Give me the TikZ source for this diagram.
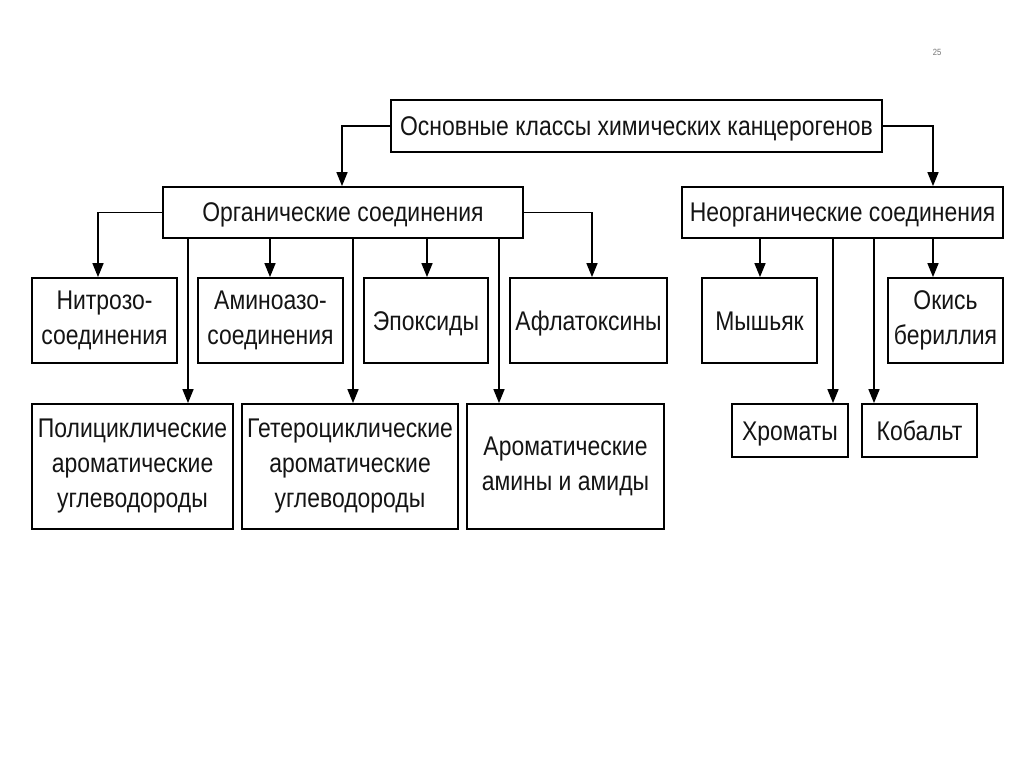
\documentclass[tikz,border=0pt]{standalone}
\usepackage{fontspec}
\setmainfont{Liberation Sans}[FakeStretch=0.85]
\usetikzlibrary{arrows.meta}
\begin{document}
\begin{tikzpicture}[x=1pt,y=-1pt,
  box/.style={draw, line width=1.8pt, rectangle, inner sep=0pt, align=center,
    font=\fontsize{27}{35}\selectfont, text=black!92},
  single/.style={text height=25pt, text depth=6pt},
  conn/.style={line width=1.6pt, -{Triangle[length=14pt,width=11pt]}}]
\useasboundingbox (0,0) rectangle (1024,767);
% page number
\node[text=black!55, font=\fontsize{9}{10}\selectfont] (pnum) at (937,52) {25};
% nodes
\node[box, single, minimum width=491pt, minimum height=52pt] (top) at (636.5,126) {Основные классы химических канцерогенов};
\node[box, single, minimum width=360pt, minimum height=51pt] (org) at (343,212.5) {Органические соединения};
\node[box, single, minimum width=321pt, minimum height=51pt] (inorg) at (842.5,212.5) {Неорганические соединения};
\node[box, minimum width=145pt, minimum height=85pt] (nitro) at (104.5,320.5) {Нитрозо-\\соединения};
\node[box, minimum width=145pt, minimum height=85pt] (amino) at (270.5,320.5) {Аминоазо-\\соединения};
\node[box, single, minimum width=124pt, minimum height=85pt] (epox) at (426,320.5) {Эпоксиды};
\node[box, single, minimum width=157pt, minimum height=85pt] (afla) at (588.5,320.5) {Афлатоксины};
\node[box, single, minimum width=115pt, minimum height=85pt] (mysh) at (759.5,320.5) {Мышьяк};
\node[box, minimum width=115pt, minimum height=85pt] (okis) at (945.5,320.5) {Окись\\бериллия};
\node[box, minimum width=201pt, minimum height=125pt] (poly) at (132.5,466.5) {Полициклические\\ароматические\\углеводороды};
\node[box, minimum width=216pt, minimum height=125pt] (hetero) at (350,466.5) {Гетероциклические\\ароматические\\углеводороды};
\node[box, minimum width=197pt, minimum height=125pt] (arom) at (565.5,466.5) {Ароматические\\амины и амиды};
\node[box, single, minimum width=116pt, minimum height=53pt] (chrom) at (790,430.5) {Хроматы};
\node[box, single, minimum width=115pt, minimum height=53pt] (cobalt) at (919.5,430.5) {Кобальт};
% column coordinates
\coordinate (c98) at (98,0);
\coordinate (c188) at (188,0);
\coordinate (c270) at (270,0);
\coordinate (c342) at (342,0);
\coordinate (c353) at (353,0);
\coordinate (c427) at (427,0);
\coordinate (c499) at (499,0);
\coordinate (c592) at (592,0);
\coordinate (c760) at (760,0);
\coordinate (c833) at (833,0);
\coordinate (c874) at (874,0);
\coordinate (c933) at (933,0);
% top connectors
\draw[conn] (top.west) -| (org.north -| c342);
\draw[conn] (top.east) -| (inorg.north -| c933);
% organic connectors
\draw[conn] (org.west) -| (nitro.north -| c98);
\draw[conn] (org.east) -| (afla.north -| c592);
\draw[conn] (org.south -| c188) -- (poly.north -| c188);
\draw[conn] (org.south -| c270) -- (amino.north -| c270);
\draw[conn] (org.south -| c353) -- (hetero.north -| c353);
\draw[conn] (org.south -| c427) -- (epox.north -| c427);
\draw[conn] (org.south -| c499) -- (arom.north -| c499);
% inorganic connectors
\draw[conn] (inorg.south -| c760) -- (mysh.north -| c760);
\draw[conn] (inorg.south -| c833) -- (chrom.north -| c833);
\draw[conn] (inorg.south -| c874) -- (cobalt.north -| c874);
\draw[conn] (inorg.south -| c933) -- (okis.north -| c933);
\end{tikzpicture}
\end{document}
